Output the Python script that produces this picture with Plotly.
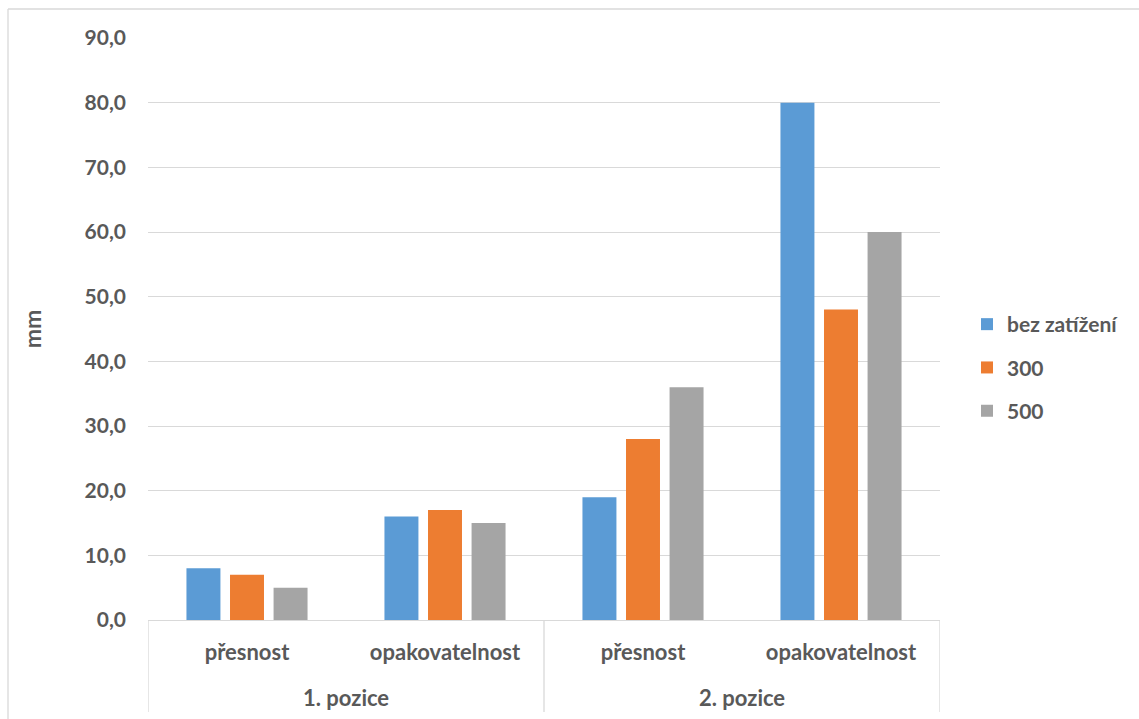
import plotly.graph_objects as go

# grouped categories
positions = ["1. pozice", "1. pozice", "2. pozice", "2. pozice"]
metrics = ["přesnost", "opakovatelnost", "přesnost", "opakovatelnost"]
group_names = ["1. pozice", "2. pozice"]

# measured deviations in mm
series_names = ["bez zatížení", "300", "500"]
bez_zatizeni = [8, 16, 19, 80]
zatez_300 = [7, 17, 28, 48]
zatez_500 = [5, 15, 36, 60]
colors = ["#5B9BD5", "#ED7D31", "#A5A5A5"]

y_ticks = [0, 10, 20, 30, 40, 50, 60, 70, 80, 90]
y_tick_labels = ["0,0", "10,0", "20,0", "30,0", "40,0", "50,0", "60,0", "70,0", "80,0", "90,0"]

TEXT = "#595959"
GRID = "#D9D9D9"
FONT = "Lato"

W, H = 1139, 719
L, R, T, B = 148, 940, 38, 620

x_idx = list(range(len(metrics)))

fig = go.Figure()
for name, vals, col, grp in zip(series_names, [bez_zatizeni, zatez_300, zatez_500], colors, ["a", "b", "c"]):
    fig.add_trace(go.Bar(
        x=x_idx, y=vals, name=name,
        marker=dict(color=col, line=dict(width=0)),
        legendgroup=grp,
    ))

def px_x(p):
    return (p - L) / (R - L)

def px_y(p):
    return (B - p) / (B - T)

shapes = [
    # chart frame (top and left edges)
    dict(type="line", xref="paper", yref="paper", x0=px_x(8), x1=px_x(W + 5), y0=px_y(9), y1=px_y(9),
         line=dict(color=GRID, width=1.3)),
    dict(type="line", xref="paper", yref="paper", x0=px_x(8), x1=px_x(8), y0=px_y(9), y1=px_y(H + 5),
         line=dict(color=GRID, width=1.3)),
]
# category box lines below the axis
for xp in [-0.5, 1.5, 3.5]:
    shapes.append(dict(type="line", xref="x", yref="paper", x0=xp, x1=xp,
                       y0=0, y1=px_y(712), line=dict(color=GRID, width=1.3)))

# group labels centred under each pair of categories
annotations = []
for gi, g in enumerate(group_names):
    members = [i for i, p in enumerate(positions) if p == g]
    annotations.append(dict(
        x=sum(members) / len(members), xref="x", y=px_y(697), yref="paper",
        text=g, showarrow=False, xanchor="center", yanchor="middle",
        font=dict(size=22, color=TEXT, family=FONT, weight="bold"),
    ))

fig.update_layout(
    width=W, height=H,
    margin=dict(l=L, r=W - R, t=T, b=H - B, autoexpand=False),
    paper_bgcolor="white", plot_bgcolor="white",
    barmode="group", bargap=0.34, bargroupgap=0.22,
    font=dict(family=FONT, color=TEXT, size=21, weight="bold"),
    legend=dict(x=px_x(967), y=px_y(304), xanchor="left", yanchor="top",
                font=dict(size=21, color=TEXT, family=FONT, weight="bold"),
                tracegroupgap=13, itemwidth=30, bgcolor="rgba(0,0,0,0)"),
    shapes=shapes,
    annotations=annotations,
    showlegend=True,
)
fig.update_xaxes(
    range=[-0.5, 3.5], tickvals=x_idx, ticktext=metrics,
    showgrid=False, showline=True, linecolor=GRID, linewidth=1.3, zeroline=False,
    ticks="", ticklabelstandoff=12,
    tickfont=dict(size=22, color=TEXT, family=FONT, weight="bold"),
)
fig.update_yaxes(
    range=[0, 90], tickvals=y_ticks, ticktext=y_tick_labels,
    showgrid=True, gridcolor=GRID, gridwidth=1.3, zeroline=False, showline=False,
    ticks="", ticklabelstandoff=21,
    tickfont=dict(size=21, color=TEXT, family=FONT, weight="bold"),
    title=dict(text="mm", standoff=36, font=dict(size=23, color=TEXT, family=FONT, weight="bold")),
)

fig.write_html("out.html")
